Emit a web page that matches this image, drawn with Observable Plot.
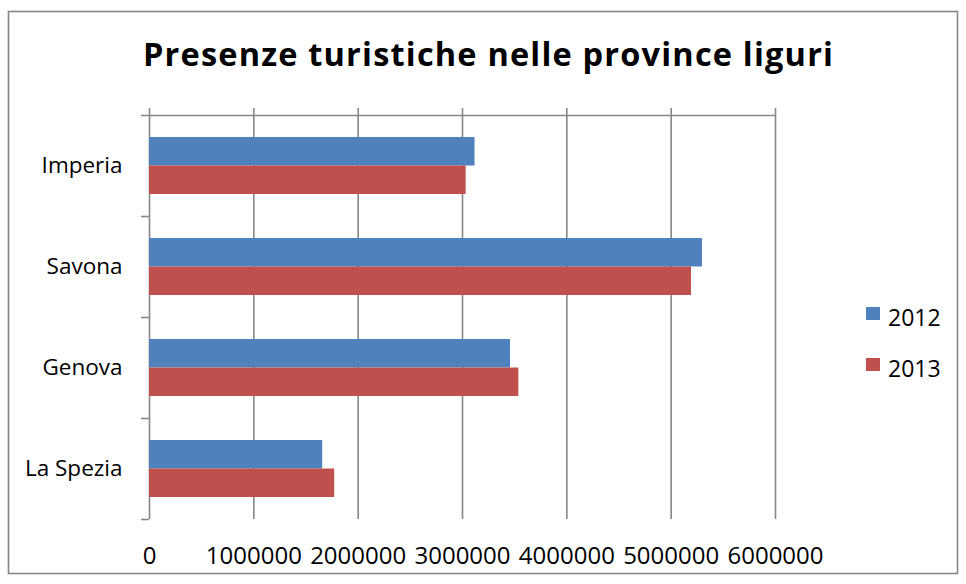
<!DOCTYPE html>
<html>
<head>
<meta charset="utf-8">
<script src="https://cdn.jsdelivr.net/npm/d3@7"></script>
<script src="https://cdn.jsdelivr.net/npm/@observablehq/plot@0.6"></script>
<style>
  html, body { margin: 0; padding: 0; background: #fff; }
  #wrap { position: relative; width: 966px; height: 584px; overflow: hidden; }
  #wrap > svg { position: absolute; left: 0; top: 0; }
  #overlay { position: absolute; left: 0; top: 0; pointer-events: none; }
</style>
</head>
<body>
<div id="wrap"></div>
<script>
const title = "Presenze turistiche nelle province liguri";
const provinces = ["Imperia", "Savona", "Genova", "La Spezia"];
const years = ["2012", "2013"];
const values2012 = [3120000, 5300000, 3460000, 1660000];
const values2013 = [3035000, 5195000, 3540000, 1775000];
const colors = ["#4F81BD", "#C0504D"];
const xTicks = [0, 1000000, 2000000, 3000000, 4000000, 5000000, 6000000];

const rows = provinces.flatMap((p, i) => [
  {province: p, year: years[0], value: values2012[i]},
  {province: p, year: years[1], value: values2013[i]}
]);

const font = "'Open Sans', Lato, sans-serif";
const gridColor = "#878787";
const step = 101;

const chart = Plot.plot({
  width: 966,
  height: 584,
  marginTop: 108,
  marginBottom: 65,
  marginLeft: 149,
  marginRight: 191,
  style: {fontFamily: font, fontSize: "23px", color: "#000", background: "transparent"},
  x: {domain: [0, 6000000], label: null},
  y: {domain: provinces, paddingInner: 0.436, paddingOuter: 0.218, insetTop: 7, label: null},
  color: {domain: years, range: colors},
  marks: [
    Plot.gridX(xTicks, {stroke: gridColor, strokeOpacity: 1, strokeWidth: 1.6}),
    Plot.barX(rows.filter(d => d.year === years[0]), {x: "value", y: "province", fill: "year", insetBottom: 28.5}),
    Plot.barX(rows.filter(d => d.year === years[1]), {x: "value", y: "province", fill: "year", insetTop: 28.5}),
    Plot.ruleY([provinces[0]], {x1: 0, x2: 6000000, insetLeft: -8, dy: -step / 2, stroke: gridColor, strokeWidth: 1.6}),
    Plot.ruleY(provinces, {x1: 0, x2: 0, insetLeft: -8, dy: step / 2, stroke: gridColor, strokeWidth: 1.6}),
    Plot.axisX(xTicks, {tickSize: 0, tickPadding: 27, tickFormat: d => String(d), fill: "#000", fontSize: 24, label: null}),
    Plot.axisY({tickSize: 0, tickPadding: 27, fill: "#000", fontSize: 22.5, label: null})
  ]
});

const wrap = document.getElementById("wrap");
wrap.appendChild(chart);

// Overlay: border, title, legend
const ov = d3.select(wrap).append("svg")
  .attr("id", "overlay")
  .attr("width", 966).attr("height", 584);

ov.append("rect")
  .attr("x", 8.5).attr("y", 11.5).attr("width", 949).attr("height", 562)
  .attr("fill", "none").attr("stroke", "#868686").attr("stroke-width", 1.6);

ov.append("text")
  .attr("x", 143).attr("y", 66)
  .attr("font-family", font)
  .attr("font-weight", "bold")
  .attr("font-size", 32.5)
  .attr("textLength", 690)
  .attr("lengthAdjust", "spacing")
  .attr("fill", "#000")
  .text(title);

const lg = ov.append("g");
years.forEach((y, i) => {
  const cy = 314 + i * 51;
  lg.append("rect").attr("x", 866).attr("y", cy - 7).attr("width", 14).attr("height", 13).attr("fill", colors[i]);
  lg.append("text").attr("x", 888).attr("y", cy + 12)
    .attr("font-family", font)
    .attr("font-size", 23).attr("fill", "#000")
    .text(y);
});
</script>
</body>
</html>
